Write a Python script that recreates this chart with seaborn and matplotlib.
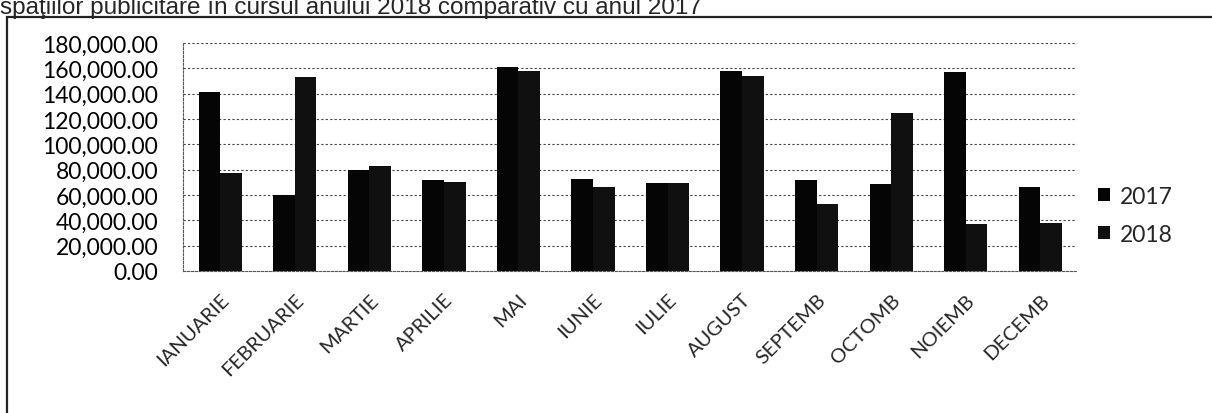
import pandas as pd
import seaborn as sns
import matplotlib.pyplot as plt
from matplotlib.patches import Rectangle
from matplotlib.ticker import FuncFormatter

# Values
months = ['IANUARIE', 'FEBRUARIE', 'MARTIE', 'APRILIE', 'MAI', 'IUNIE',
          'IULIE', 'AUGUST', 'SEPTEMB', 'OCTOMB', 'NOIEMB', 'DECEMB']
values_2017 = [141000, 60000, 79500, 71500, 161000, 72500,
               69500, 157500, 71500, 68500, 157000, 66500]
values_2018 = [77500, 153000, 83000, 70000, 157500, 66500,
               69500, 154000, 52500, 125000, 37000, 37500]
years = ['2017', '2018']
y_ticks = [0, 20000, 40000, 60000, 80000, 100000, 120000, 140000, 160000, 180000]

df = pd.DataFrame({
    'Luna': months * 2,
    'An': [years[0]] * len(months) + [years[1]] * len(months),
    'Valoare': values_2017 + values_2018,
})

sns.set_style('white')
plt.rcParams['font.family'] = ['Lato', 'DejaVu Sans']

fig = plt.figure(figsize=(12.12, 4.14), dpi=100)
ax = fig.add_axes([0.151, 0.343, 0.738, 0.551])

sns.barplot(data=df, x='Luna', y='Valoare', hue='An', order=months,
            palette=['#050505', '#101010'], width=0.58, gap=0,
            saturation=1, errorbar=None, linewidth=0, ax=ax)

ax.set_ylim(0, 180000)
ax.set_xlim(-0.5, len(months) - 0.5)
ax.set_yticks(y_ticks)
ax.yaxis.set_major_formatter(FuncFormatter(lambda v, p: f'{v:,.2f}'))
ax.set_xlabel('')
ax.set_ylabel('')

# dotted gridlines like the scan
for t in y_ticks[1:]:
    ax.axhline(t, color='#444444', lw=0.8, ls=(0, (2, 2)), zorder=0)

for s in ['top', 'right']:
    ax.spines[s].set_visible(False)
ax.spines['left'].set_color('#555555')
ax.spines['left'].set_linestyle((0, (2, 1.5)))
ax.spines['bottom'].set_color('#555555')
ax.spines['bottom'].set_linestyle((0, (2, 1.5)))

ax.tick_params(axis='y', labelsize=16.5, length=0, pad=18, colors='black')
ax.set_xticks(range(len(months)))
ax.set_xticklabels(months, rotation=45, ha='right', rotation_mode='anchor', fontsize=14.5)
ax.tick_params(axis='x', length=0, pad=14)
# tick marks between categories
ax.set_xticks([i - 0.5 for i in range(len(months) + 1)], minor=True)
ax.tick_params(axis='x', which='minor', length=5, color='#555555', width=0.8)

handles, labels = ax.get_legend_handles_labels()
ax.legend(handles, labels, loc='center left', bbox_to_anchor=(1.0, 0.245),
          frameon=False, fontsize=16.5, handlelength=0.5, handleheight=0.5,
          handletextpad=0.45, labelspacing=0.75)

# scanned page frame and the title line, cut at the top as on the scan
fig.patches.append(Rectangle((0.006, -0.05), 1.2, 1.007, transform=fig.transFigure,
                             fill=False, edgecolor='#222222', lw=1.6))
fig.text(0.0, 1 - 14 / 414, 'spaţiilor publicitare în cursul anului 2018 comparativ cu anul 2017',
         fontsize=17.5, family=['Liberation Sans', 'DejaVu Sans'], va='baseline', ha='left')

plt.savefig('out.png', dpi=100)
